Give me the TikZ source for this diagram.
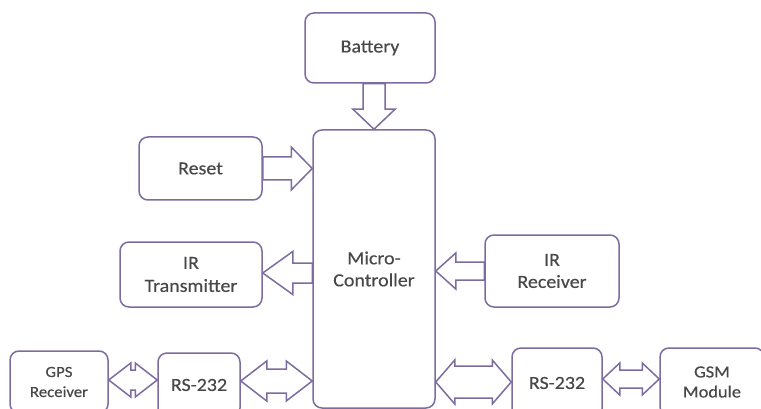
\documentclass[tikz,border=0pt]{standalone}
\usepackage{fontspec}
\setmainfont{Carlito}[FakeStretch=1.08,FakeBold=0.35]
\usetikzlibrary{calc}
\definecolor{edgec}{RGB}{125,108,160}
\definecolor{txtc}{RGB}{72,72,72}
\tikzset{
  box/.style={draw=edgec, line width=1.5pt, rounded corners=9pt, fill=white, inner sep=0pt,
    align=center, text=txtc, font=\fontsize{18.5}{22}\selectfont},
  blk/.style={draw=edgec, line width=1.5pt, line join=miter, fill=white},
}
% horizontal double block arrow between two points (y of first)
\newcommand\dblarr[5]{\draw[blk] let \p1=(#1), \p2=(#2) in
  (\x1,\y1) -- (\x1+#3pt,\y1+#4pt) -- (\x1+#3pt,\y1+#5pt) -- (\x2-#3pt,\y1+#5pt) -- (\x2-#3pt,\y1+#4pt)
  -- (\x2,\y1) -- (\x2-#3pt,\y1-#4pt) -- (\x2-#3pt,\y1-#5pt) -- (\x1+#3pt,\y1-#5pt) -- (\x1+#3pt,\y1-#4pt) -- cycle;}
% horizontal single block arrow from #1 to #2 (tip at #2, y of #2)
\newcommand\sarr[5]{\draw[blk] let \p1=(#1), \p2=(#2), \n1={sign(\x2-\x1)} in
  (\x2,\y2) -- (\x2-\n1*#3pt,\y2+#4pt) -- (\x2-\n1*#3pt,\y2+#5pt) -- (\x1,\y2+#5pt) -- (\x1,\y2-#5pt)
  -- (\x2-\n1*#3pt,\y2-#5pt) -- (\x2-\n1*#3pt,\y2-#4pt) -- cycle;}
\begin{document}
\begin{tikzpicture}[x=1pt,y=-1pt]
\useasboundingbox (0,0) rectangle (761,409);
\begin{scope}
\clip (0,0) rectangle (761,409);
\node[box, minimum width=130pt, minimum height=70pt] (bat) at (370,48) {Battery};
\node[box, minimum width=122pt, minimum height=278pt] (mc) at (374,269) {Micro-\\Controller};
\node[box, minimum width=123pt, minimum height=63pt] (reset) at (200.5,168.5) {Reset};
\node[box, minimum width=142pt, minimum height=65pt, font=\fontsize{18.5}{23}\selectfont] (irt) at (191,274.5) {IR\\Transmitter};
\node[box, minimum width=134pt, minimum height=72pt] (irr) at (552,271) {IR\\Receiver};
\node[box, minimum width=98pt, minimum height=62pt, font=\fontsize{15.5}{20}\selectfont] (gps) at (59,382) {GPS\\Receiver};
\node[box, minimum width=82pt, minimum height=64pt] (rs1) at (199,385) {RS-232};
\node[box, minimum width=90pt, minimum height=70pt] (rs2) at (557,383) {RS-232};
\node[box, minimum width=104pt, minimum height=68pt, font=\fontsize{17}{20}\selectfont] (gsm) at (712,382) {GSM\\Module};

% battery -> micro-controller
\draw[blk] let \p1=(bat.south), \p2=(mc.north) in
  (\x2,\y2) -- (\x2-21pt,\y2+20pt) -- (\x2-11pt,\y2+20pt) -- (\x2-11pt,\y1) -- (\x2+11pt,\y1)
  -- (\x2+11pt,\y2+20pt) -- (\x2+21pt,\y2+20pt) -- cycle;
\sarr{reset.east}{mc.west |- reset.east}{21}{21.5}{11.5}
\sarr{mc.west |- 0,273}{irt.east |- 0,273}{30}{21.5}{10}
\sarr{irr.west}{mc.east |- irr.west}{20}{18}{9}
\dblarr{gps.east |- 0,380}{rs1.west |- 0,380}{22}{17}{10}
\dblarr{rs1.east |- 0,381}{mc.west |- 0,381}{26}{20}{12}
\dblarr{mc.east |- 0,382}{rs2.west |- 0,382}{19}{22}{16}
\dblarr{rs2.east |- 0,379}{gsm.west |- 0,379}{17}{16}{9}
\end{scope}
\end{tikzpicture}
\end{document}
